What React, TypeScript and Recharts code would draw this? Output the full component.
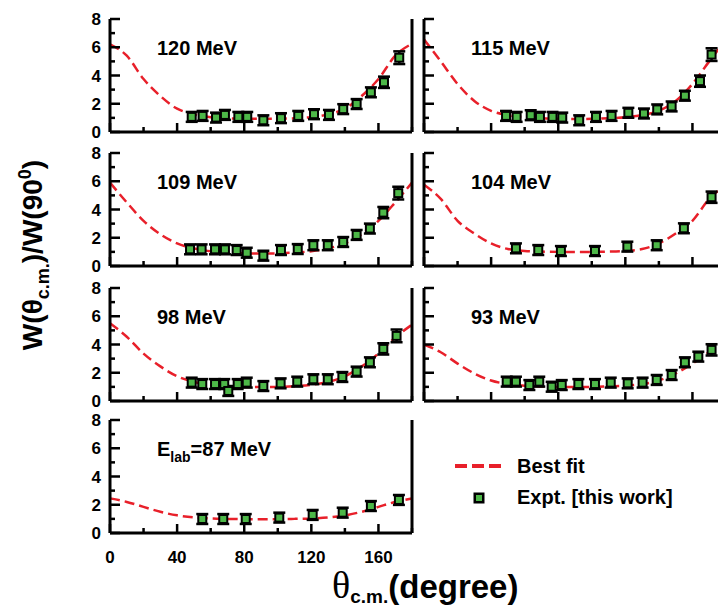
import React from "react"
import { ComposedChart, ErrorBar, Line, Scatter, XAxis, YAxis } from "recharts"

// best-fit curve sampled every 10 degrees
const fitAngles = [0, 10, 20, 30, 40, 50, 60, 70, 80, 90, 100, 110, 120, 130, 140, 150, 160, 170, 180]

const angles120 = [48.7, 55.2, 63.2, 68.5, 76.5, 81.8, 91.4, 101.9, 112.2, 121.6, 130.5, 139, 147, 155.5, 163.3, 172.4]
const values120 = [1.07, 1.14, 1.02, 1.21, 1.07, 1.07, 0.83, 0.98, 1.14, 1.26, 1.21, 1.62, 1.98, 2.81, 3.52, 5.26]
const errs120 = [0.35, 0.35, 0.35, 0.35, 0.35, 0.35, 0.35, 0.35, 0.35, 0.35, 0.35, 0.35, 0.35, 0.35, 0.4, 0.45]
const fit120 = [6.2, 5.4, 3.75, 2.55, 1.65, 1.25, 1.05, 0.97, 0.94, 0.93, 0.94, 0.97, 1.05, 1.25, 1.65, 2.55, 3.75, 5.4, 6.25]

const angles115 = [48.9, 55.2, 63.6, 69.1, 76.6, 82.4, 92.5, 102.5, 111.8, 121.8, 131.1, 139, 147.6, 155.5, 164.5, 171.4]
const values115 = [1.14, 1.07, 1.19, 1.07, 1.07, 1.02, 0.83, 1.07, 1.14, 1.36, 1.31, 1.6, 1.81, 2.57, 3.6, 5.48]
const errs115 = [0.35, 0.35, 0.35, 0.35, 0.35, 0.35, 0.35, 0.35, 0.35, 0.35, 0.35, 0.35, 0.35, 0.35, 0.4, 0.45]
const fit115 = [6.55, 5.0, 3.4, 2.2, 1.5, 1.2, 1.05, 0.97, 0.93, 0.92, 0.93, 0.97, 1.05, 1.2, 1.5, 2.2, 3.4, 5.0, 6.55]

const angles109 = [47.7, 54.6, 62.6, 68.5, 75.5, 81.5, 91.4, 101.9, 111.9, 121.2, 129.8, 139, 147, 154.9, 162.9, 171.8]
const values109 = [1.18, 1.18, 1.18, 1.18, 1.13, 0.94, 0.73, 1.13, 1.2, 1.47, 1.47, 1.7, 2.2, 2.65, 3.78, 5.16]
const errs109 = [0.35, 0.35, 0.35, 0.35, 0.35, 0.35, 0.35, 0.35, 0.35, 0.35, 0.35, 0.35, 0.35, 0.35, 0.4, 0.45]
const fit109 = [5.9, 4.5, 3.2, 2.25, 1.6, 1.25, 1.05, 0.95, 0.9, 0.88, 0.9, 0.95, 1.05, 1.25, 1.6, 2.25, 3.2, 4.5, 5.9]

const angles104 = [54.8, 68.1, 81.6, 101.9, 121.2, 138.7, 154.9, 171.4]
const values104 = [1.25, 1.13, 1.06, 1.06, 1.37, 1.47, 2.67, 4.87]
const errs104 = [0.35, 0.35, 0.35, 0.35, 0.35, 0.35, 0.35, 0.4]
const fit104 = [5.75, 4.75, 3.2, 2.3, 1.6, 1.2, 1.07, 1.02, 1.0, 1.0, 1.0, 1.02, 1.07, 1.2, 1.6, 2.3, 3.2, 4.75, 5.75]

const angles98 = [48.7, 55, 62.6, 68.1, 70.5, 76.1, 81.5, 91.4, 101.7, 111.6, 121.2, 129.8, 138.5, 147, 154.9, 162.9, 170.8]
const values98 = [1.3, 1.2, 1.2, 1.2, 0.71, 1.2, 1.3, 1.06, 1.25, 1.37, 1.54, 1.54, 1.7, 2.08, 2.74, 3.69, 4.61]
const errs98 = [0.35, 0.35, 0.35, 0.35, 0.35, 0.35, 0.35, 0.35, 0.35, 0.35, 0.35, 0.35, 0.35, 0.35, 0.35, 0.4, 0.45]
const fit98 = [5.5, 4.55, 3.35, 2.45, 1.75, 1.35, 1.15, 1.05, 1.0, 1.0, 1.0, 1.05, 1.15, 1.35, 1.75, 2.45, 3.35, 4.5, 5.4]

const angles93 = [49.3, 54.8, 62.8, 68.7, 76.1, 82.1, 92, 101.9, 111.3, 121.4, 130.3, 138.7, 147.6, 155.5, 163.5, 171.4]
const values93 = [1.37, 1.37, 1.13, 1.37, 1.01, 1.13, 1.2, 1.2, 1.3, 1.25, 1.3, 1.49, 1.84, 2.74, 3.14, 3.62]
const errs93 = [0.35, 0.35, 0.35, 0.35, 0.35, 0.35, 0.35, 0.35, 0.35, 0.35, 0.35, 0.35, 0.35, 0.35, 0.35, 0.4]
const fit93 = [4.0, 3.45, 2.65, 1.95, 1.45, 1.2, 1.08, 1.03, 1.0, 1.0, 1.0, 1.03, 1.08, 1.2, 1.45, 1.95, 2.65, 3.45, 4.0]

const angles87 = [55, 67.5, 80.9, 100.9, 120.8, 138.7, 155.5, 172.2]
const values87 = [0.99, 0.99, 0.99, 1.09, 1.28, 1.44, 1.91, 2.34]
const errs87 = [0.35, 0.35, 0.35, 0.35, 0.35, 0.35, 0.35, 0.35]
const fit87 = [2.45, 2.2, 1.85, 1.5, 1.25, 1.1, 1.03, 1.0, 0.98, 0.98, 0.98, 1.0, 1.03, 1.1, 1.25, 1.5, 1.85, 2.2, 2.45]

const xTicks = [0, 20, 40, 60, 80, 100, 120, 140, 160, 180]
const yTicks = [0, 1, 2, 3, 4, 5, 6, 7, 8]

const RED = "#e8202a"
const GREEN = "#4db848"
const FONT = "'Liberation Sans', Arial, sans-serif"

const PLOT_W = 302
const PLOT_H = 113
const PAD_L = 42
const PAD_R = 8
const PAD_T = 14

const AxisTick = (props: any) => {
  const { x, y, payload, side, showLabel } = props
  const v = payload.value
  const vertical = side === "left" || side === "right"
  const major = vertical ? v % 2 === 0 : v % 40 === 0
  const len = major ? (vertical ? 10 : 9) : 5
  let line = null
  let label = null
  if (side === "bottom") {
    line = <line x1={x} y1={y} x2={x} y2={y - len} stroke="#000" strokeWidth={2.5} />
    if (showLabel && major)
      label = (
        <text x={x} y={y + 30} textAnchor="middle" fontSize={17} fontWeight="bold" fontFamily={FONT} fill="#000">
          {v}
        </text>
      )
  } else if (side === "top") {
    line = <line x1={x} y1={y} x2={x} y2={y + len} stroke="#000" strokeWidth={2.5} />
  } else if (side === "left") {
    line = <line x1={x} y1={y} x2={x + len} y2={y} stroke="#000" strokeWidth={2.5} />
    if (showLabel && major)
      label = (
        <text x={x - 9} y={y + 6} textAnchor="end" fontSize={17} fontWeight="bold" fontFamily={FONT} fill="#000">
          {v}
        </text>
      )
  } else {
    line = <line x1={x} y1={y} x2={x - len} y2={y} stroke="#000" strokeWidth={2.5} />
  }
  return (
    <g>
      {line}
      {label}
    </g>
  )
}

const Marker = (props: any) => {
  const { cx, cy } = props
  return (
    <g>
      <rect x={cx - 5} y={cy - 5} width={10} height={10} fill="#000" />
      <rect x={cx - 3} y={cy - 3} width={6} height={6} fill={GREEN} />
    </g>
  )
}

interface PanelProps {
  left: number
  top: number
  label: React.ReactNode
  angles: number[]
  values: number[]
  errs: number[]
  fit: number[]
  showY: boolean
  showX: boolean
}

function Panel({ left, top, label, angles, values, errs, fit, showY, showX }: PanelProps) {
  const padB = showX ? 40 : 14
  const fitData = fitAngles.map((a, i) => ({ x: a, y: fit[i] }))
  const points = angles.map((a, i) => ({ x: a, y: values[i], err: errs[i] }))
  const border = { stroke: "#000", strokeWidth: 3 }
  return (
    <div style={{ position: "absolute", left: left - PAD_L, top: top - PAD_T }}>
      <ComposedChart
        width={PAD_L + PLOT_W + PAD_R}
        height={PAD_T + PLOT_H + padB}
        margin={{ top: PAD_T, right: 0, bottom: 0, left: 0 }}
      >
        <XAxis
          xAxisId="b"
          dataKey="x"
          type="number"
          domain={[0, 180]}
          ticks={xTicks}
          interval={0}
          height={padB}
          tickSize={0}
          tickMargin={0}
          tickLine={false}
          axisLine={border}
          tick={(p: any) => <AxisTick {...p} side="bottom" showLabel={showX} />}
        />
        <XAxis
          xAxisId="t"
          orientation="top"
          type="number"
          domain={[0, 180]}
          ticks={xTicks}
          interval={0}
          height={0}
          tickSize={0}
          tickMargin={0}
          tickLine={false}
          axisLine={border}
          tick={(p: any) => <AxisTick {...p} side="top" />}
        />
        <YAxis
          yAxisId="l"
          dataKey="y"
          type="number"
          domain={[0, 8]}
          ticks={yTicks}
          interval={0}
          width={PAD_L}
          tickSize={0}
          tickMargin={0}
          tickLine={false}
          axisLine={border}
          tick={(p: any) => <AxisTick {...p} side="left" showLabel={showY} />}
        />
        <YAxis
          yAxisId="r"
          orientation="right"
          type="number"
          domain={[0, 8]}
          ticks={yTicks}
          interval={0}
          width={PAD_R}
          tickSize={0}
          tickMargin={0}
          tickLine={false}
          axisLine={border}
          tick={(p: any) => <AxisTick {...p} side="right" />}
        />
        <Line
          xAxisId="b"
          yAxisId="l"
          data={fitData}
          dataKey="y"
          type="monotone"
          stroke={RED}
          strokeWidth={2.5}
          strokeDasharray="10 5"
          dot={false}
          isAnimationActive={false}
        />
        <Scatter
          xAxisId="b"
          yAxisId="l"
          data={points}
          dataKey="y"
          shape={Marker}
          isAnimationActive={false}
        >
          <ErrorBar dataKey="err" direction="y" width={6} strokeWidth={2.5} stroke="#000" />
        </Scatter>
        <text x={PAD_L + 47} y={PAD_T + 36} fontSize={20} fontWeight="bold" fontFamily={FONT} fill="#000">
          {label}
        </text>
      </ComposedChart>
    </div>
  )
}

const colLeft = [110, 424]
const rowTop = [19, 153, 288, 420]

export default function App() {
  return (
    <div
      style={{
        position: "fixed",
        left: 0,
        top: 0,
        width: 718,
        height: 608,
        overflow: "hidden",
        background: "#fff",
        fontFamily: FONT,
      }}
    >
      <Panel left={colLeft[0]} top={rowTop[0]} label="120 MeV" angles={angles120} values={values120} errs={errs120} fit={fit120} showY showX={false} />
      <Panel left={colLeft[1]} top={rowTop[0]} label="115 MeV" angles={angles115} values={values115} errs={errs115} fit={fit115} showY={false} showX={false} />
      <Panel left={colLeft[0]} top={rowTop[1]} label="109 MeV" angles={angles109} values={values109} errs={errs109} fit={fit109} showY showX={false} />
      <Panel left={colLeft[1]} top={rowTop[1]} label="104 MeV" angles={angles104} values={values104} errs={errs104} fit={fit104} showY={false} showX={false} />
      <Panel left={colLeft[0]} top={rowTop[2]} label="98 MeV" angles={angles98} values={values98} errs={errs98} fit={fit98} showY showX={false} />
      <Panel left={colLeft[1]} top={rowTop[2]} label="93 MeV" angles={angles93} values={values93} errs={errs93} fit={fit93} showY={false} showX={false} />
      <Panel
        left={colLeft[0]}
        top={rowTop[3]}
        label={
          <>
            E<tspan dy={6} fontSize={14}>lab</tspan>
            <tspan dy={-6}>=87 MeV</tspan>
          </>
        }
        angles={angles87}
        values={values87}
        errs={errs87}
        fit={fit87}
        showY
        showX
      />

      {/* legend */}
      <svg style={{ position: "absolute", left: 440, top: 450 }} width={260} height={70}>
        <line x1={15} y1={16} x2={62} y2={16} stroke={RED} strokeWidth={4} strokeDasharray="12 5" />
        <text x={77} y={23} fontSize={20} fontWeight="bold" fontFamily={FONT} fill="#000">
          Best fit
        </text>
        <rect x={33.5} y={42.5} width={11} height={11} fill="#000" />
        <rect x={36} y={45} width={6} height={6} fill={GREEN} />
        <text x={77} y={54} fontSize={20} fontWeight="bold" fontFamily={FONT} fill="#000">
          Expt. [this work]
        </text>
      </svg>

      {/* y axis title */}
      <svg style={{ position: "absolute", left: 0, top: 0 }} width={70} height={560}>
        <text
          transform="translate(42 255) rotate(-90)"
          textAnchor="middle"
          fontSize={28}
          fontWeight="bold"
          fontFamily={FONT}
          fill="#000"
        >
          W(θ<tspan dy={7} fontSize={18}>c.m.</tspan>
          <tspan dy={-7}>)/W(90</tspan>
          <tspan dy={-11} fontSize={18}>0</tspan>
          <tspan dy={11}>)</tspan>
        </text>
      </svg>

      {/* x axis title */}
      <svg style={{ position: "absolute", left: 300, top: 556 }} width={280} height={52}>
        <text x={32} y={42} fontSize={38} fontFamily="'Liberation Serif', 'Times New Roman', serif" fill="#000">
          θ<tspan dy={5} fontSize={19} fontFamily={FONT} fontWeight="bold">c.m.</tspan>
          <tspan dy={-5} fontSize={33} fontWeight="bold" fontFamily={FONT}>(degree)</tspan>
        </text>
      </svg>
    </div>
  )
}
